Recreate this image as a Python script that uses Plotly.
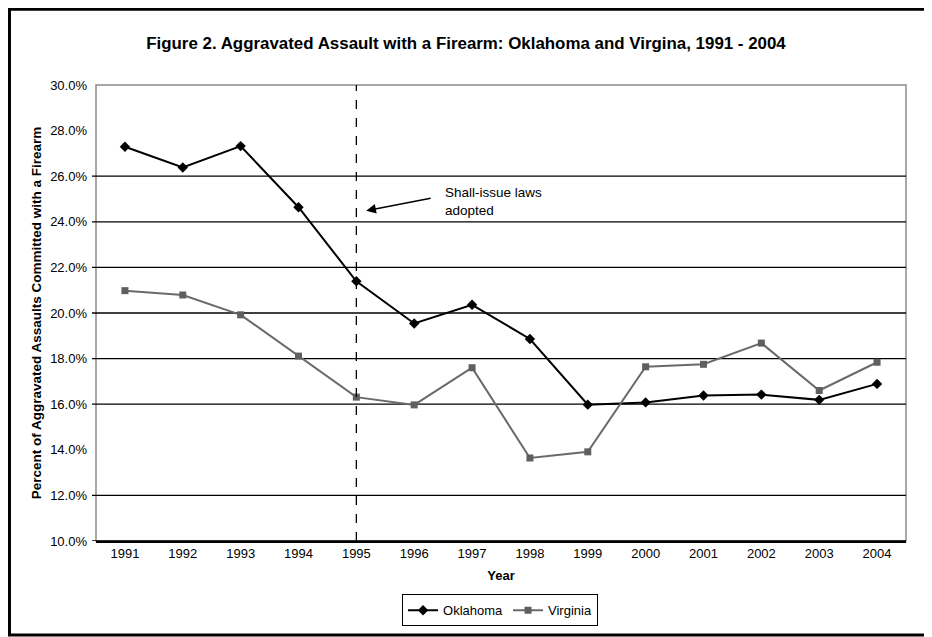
import plotly.graph_objects as go

years = ['1991', '1992', '1993', '1994', '1995', '1996', '1997',
         '1998', '1999', '2000', '2001', '2002', '2003', '2004']
oklahoma = [27.29, 26.38, 27.32, 24.64, 21.39, 19.54, 20.36,
            18.86, 15.98, 16.08, 16.38, 16.42, 16.19, 16.89]
virginia = [20.98, 20.79, 19.92, 18.11, 16.31, 15.97, 17.60,
            13.64, 13.91, 17.64, 17.75, 18.68, 16.60, 17.84]
y_ticks = [10, 12, 14, 16, 18, 20, 22, 24, 26, 28, 30]
y_labels = ['%.1f%%' % v for v in y_ticks]
# gridlines that show in the picture (28% and 14% are not drawn)
grid_levels = [10, 12, 16, 18, 20, 22, 24, 26]
law_year = '1995'

FONT = 'Arial, Liberation Sans, sans-serif'

fig = go.Figure()
fig.add_trace(go.Scatter(x=years, y=oklahoma, name='Oklahoma', mode='lines+markers',
                         line=dict(color='black', width=2),
                         marker=dict(symbol='diamond', size=8, color='black')))
fig.add_trace(go.Scatter(x=years, y=virginia, name='Virginia', mode='lines+markers',
                         line=dict(color='#6a6a6a', width=2),
                         marker=dict(symbol='square', size=7, color='#5f5f5f')))

law_idx = years.index(law_year)

shapes = []
# plot border (gray)
shapes.append(dict(type='rect', xref='paper', yref='paper', x0=0, x1=1, y0=0, y1=1,
                   line=dict(color='#8c8c8c', width=1.5), layer='below'))
for g in grid_levels:
    shapes.append(dict(type='line', xref='paper', yref='y', x0=-0.005, x1=1, y0=g, y1=g,
                       line=dict(color='black', width=1.3), layer='below'))
# dashed line for law adoption
shapes.append(dict(type='line', xref='x', yref='paper', x0=law_idx, x1=law_idx, y0=0, y1=1,
                   line=dict(color='black', width=1.3, dash='dash')))
# outer frame
shapes.append(dict(type='rect', xref='paper', yref='paper',
                   x0=-0.1068, x1=1.0278, y0=-0.206, y1=1.166,
                   line=dict(color='black', width=3)))

fig.update_layout(
    width=932, height=637,
    margin=dict(l=88, r=34, t=77, b=104, autoexpand=False),
    paper_bgcolor='white', plot_bgcolor='white',
    font=dict(family=FONT, size=13, color='black'),
    title=dict(text='<b>Figure 2. Aggravated Assault with a Firearm: Oklahoma and Virgina, 1991 - 2004</b>',
               x=0.4914, xanchor='center', y=0.945, yanchor='middle',
               font=dict(family=FONT, size=16.9, color='black')),
    shapes=shapes,
    showlegend=True,
    legend=dict(orientation='h', x=0.4988, xanchor='center', y=-0.117, yanchor='top',
                bordercolor='black', borderwidth=1, bgcolor='white',
                font=dict(size=13), itemwidth=30, tracegroupgap=0),
    annotations=[
        dict(x=4.17, y=24.49, ax=5.31, ay=25.05, axref='x', ayref='y', xref='x', yref='y',
             text='', showarrow=True, arrowhead=2, arrowsize=1.3, arrowwidth=1.5,
             arrowcolor='black'),
        dict(x=5.5, y=24.9, xref='x', yref='y', xanchor='left', yanchor='middle', align='left',
             text='Shall-issue laws<br>adopted', showarrow=False, font=dict(size=13.5)),
    ],
)

fig.update_xaxes(type='category', range=[-0.5, 13.5], showgrid=False,
                 showline=True, linecolor='black', linewidth=1.5,
                 ticks='', tickfont=dict(size=13),
                 title=dict(text='<b>Year</b>', font=dict(size=13), standoff=11))
fig.update_yaxes(range=[10, 30], tickvals=y_ticks, ticktext=y_labels,
                 showgrid=False, zeroline=False, showline=False, ticks='',
                 ticklabelstandoff=8, tickfont=dict(size=13),
                 title=dict(text='<b>Percent of Aggravated Assaults Committed with a Firearm</b>',
                            font=dict(size=13.5), standoff=5))

fig.write_html('out.html')
